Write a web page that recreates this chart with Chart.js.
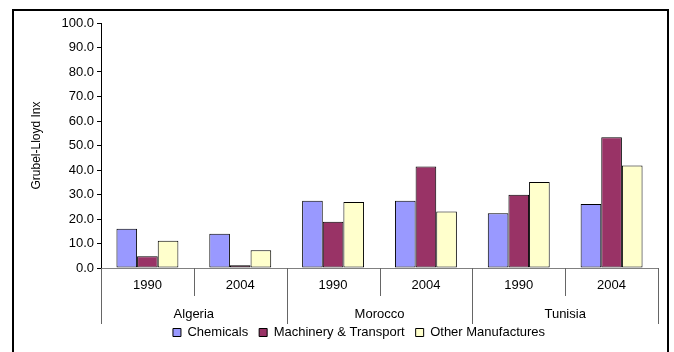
<!DOCTYPE html>
<html>
<head>
<meta charset="utf-8">
<script src="https://cdn.jsdelivr.net/npm/chart.js@4.4.1/dist/chart.umd.min.js"></script>
<style>
  html, body { margin: 0; padding: 0; background: #fff; }
  #wrap { width: 674px; height: 352px; position: relative; }
</style>
</head>
<body>
<div id="wrap"><canvas id="c" width="674" height="352"></canvas></div>
<script>
const countries = ["Algeria", "Morocco", "Tunisia"];
const years = ["1990", "2004"];
const categoryLabels = ["1990", "2004", "1990", "2004", "1990", "2004"];
const chemicals = [16.0, 14.0, 27.5, 27.5, 22.3, 26.1];
const machinery = [4.8, 1.1, 18.9, 41.4, 29.9, 53.4];
const otherManufactures = [11.1, 7.2, 26.9, 23.1, 35.1, 41.8];
const seriesNames = ["Chemicals", "Machinery & Transport", "Other Manufactures"];
const yTicks = [0, 10, 20, 30, 40, 50, 60, 70, 80, 90, 100];

const FONT = "'Liberation Sans', Arial, sans-serif";

const framePlugin = {
  id: 'frame',
  beforeDraw(chart) {
    const ctx = chart.ctx;
    ctx.save();
    ctx.fillStyle = '#fff';
    ctx.fillRect(0, 0, chart.width, chart.height);
    ctx.strokeStyle = '#000';
    ctx.lineWidth = 2;
    ctx.strokeRect(13, 10, 655, 400);
    ctx.restore();
  }
};

const multiLevelPlugin = {
  id: 'multiLevel',
  afterDraw(chart) {
    const xs = chart.scales.x;
    const ctx = chart.ctx;
    const n = categoryLabels.length;
    const b = [];
    for (let i = 0; i <= n; i++) {
      if (i === 0) b.push(xs.left);
      else if (i === n) b.push(xs.right);
      else b.push((xs.getPixelForValue(i - 1) + xs.getPixelForValue(i)) / 2);
    }
    const y0 = xs.top;
    ctx.save();
    ctx.strokeStyle = '#666';
    ctx.lineWidth = 1;
    for (let i = 0; i <= n; i++) {
      const len = (i % years.length === 0) ? 56 : 28;
      const px = Math.round(b[i]) + 0.5;
      ctx.beginPath();
      ctx.moveTo(px, y0);
      ctx.lineTo(px, y0 + len);
      ctx.stroke();
    }
    ctx.fillStyle = '#000';
    ctx.font = '13px ' + FONT;
    ctx.textAlign = 'center';
    ctx.textBaseline = 'middle';
    countries.forEach((c, g) => {
      const cx = (b[g * years.length] + b[(g + 1) * years.length]) / 2;
      ctx.fillText(c, cx, y0 + 46);
    });
    ctx.restore();
  }
};

const colors = ['#9999FF', '#993366', '#FFFFCC'];
const seriesData = [chemicals, machinery, otherManufactures];

new Chart(document.getElementById('c'), {
  type: 'bar',
  data: {
    labels: categoryLabels,
    datasets: seriesNames.map((name, i) => ({
      label: name,
      data: seriesData[i],
      backgroundColor: colors[i],
      borderColor: '#000',
      borderWidth: 1,
      borderSkipped: false,
      categoryPercentage: 0.667,
      barPercentage: 1.0
    }))
  },
  options: {
    responsive: false,
    animation: false,
    devicePixelRatio: 1,
    layout: { padding: { top: 23, right: 16, left: 60, bottom: 3 } },
    plugins: {
      tooltip: { enabled: false },
      legend: {
        position: 'bottom',
        labels: {
          boxWidth: 8,
          boxHeight: 8,
          padding: 11,
          color: '#000',
          font: { family: FONT, size: 13 }
        }
      }
    },
    scales: {
      x: {
        grid: { display: false, drawTicks: false },
        border: { display: true, color: '#808080', width: 1 },
        ticks: { color: '#000', font: { family: FONT, size: 13 }, padding: 10, maxRotation: 0 },
        afterFit(scale) { scale.height = 47; }
      },
      y: {
        min: 0,
        max: 100,
        afterBuildTicks(scale) { scale.ticks = yTicks.map(v => ({ value: v })); },
        grid: { display: true, drawOnChartArea: false, drawTicks: true, tickLength: 4, color: '#000' },
        border: { display: true, color: '#000', width: 1 },
        ticks: {
          color: '#000',
          font: { family: FONT, size: 13 },
          padding: 3,
          callback: v => Number(v).toFixed(1)
        },
        title: {
          display: true,
          text: 'Grubel-Lloyd Inx',
          color: '#000',
          font: { family: FONT, size: 12 },
          padding: { top: -31, bottom: 0 }
        },
        afterFit(scale) { scale.width = 41; }
      }
    }
  },
  plugins: [framePlugin, multiLevelPlugin]
});
</script>
</body>
</html>
